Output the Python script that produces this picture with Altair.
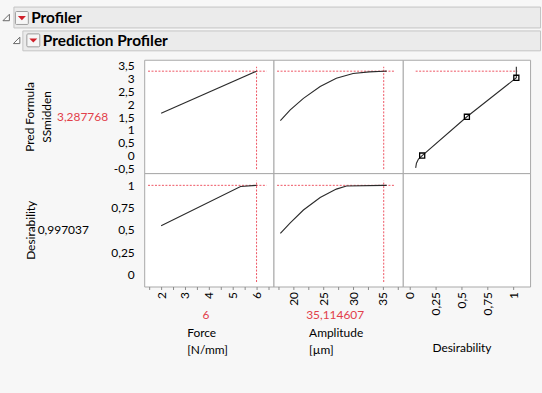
import altair as alt
import pandas as pd

# ---------------- data ----------------
force_line_x = [2.0, 6.0]
force_line_y = [1.65, 3.288]

amp_curve_x = [17.85, 19.5, 21.7, 24.5, 27.2, 30.0, 32.7, 35.11, 35.6]
amp_curve_y = [1.36, 1.78, 2.23, 2.69, 3.01, 3.20, 3.26, 3.288, 3.29]

desfn_d = [0.055, 0.0625, 0.082, 0.118, 0.551, 1.03, 1.03]
desfn_y = [-0.48, -0.30, -0.14, 0.0, 1.51, 3.03, 3.46]
handle_d = [0.118, 0.551, 1.03]
handle_y = [0.0, 1.51, 3.03]

force_des_x = [2.0, 5.33, 6.0]
force_des_y = [0.548, 0.985, 0.997]

amp_des_x = [17.85, 19.5, 21.7, 24.5, 27.2, 28.9, 35.11, 35.6]
amp_des_y = [0.462, 0.578, 0.722, 0.862, 0.955, 0.99, 0.997, 0.997]

current_force = 6
current_amp = 35.114607
current_pred = 3.287768
current_des = 0.997037

force_domain = [1.29, 6.71]
amp_domain = [16.7, 38.3]
des_domain = [-0.07, 1.163]
pred_domain = [-0.686, 3.733]
desy_domain = [-0.13, 1.133]

force_span = [1.45, 6.42]
amp_span = [17.3, 37.05]
des_span = [0.055, 1.04]
pred_span = [-0.53, 3.46]
desy_span = [-0.08, 1.048]

pred_ticks = [-0.5, 0, 0.5, 1, 1.5, 2, 2.5, 3, 3.5]
desy_ticks = [0, 0.25, 0.5, 0.75, 1]
force_ticks = [1.5, 2, 2.5, 3, 3.5, 4, 4.5, 5, 5.5, 6, 6.5]
amp_ticks = [17.5, 20, 22.5, 25, 27.5, 30, 32.5, 35, 37.5]
des_ticks = [0, 0.25, 0.5, 0.75, 1]

header_titles = ["Profiler", "Prediction Profiler"]


def fmt(v):
    return str(v).replace(".", ",")


# ---------------- styling ----------------
RED = "#ee5563"
VAL_RED = "#e2404a"
LINE = "#2a2a2a"
W1, W2, W3, H = 130, 130, 128, 114
COMMA = "replace(toString(datum.value), '.', ',')"


def sc(dom):
    return alt.Scale(domain=dom, nice=False, zero=False)


def yaxis(ticks, title, tx):
    return alt.Axis(values=ticks, labelExpr=COMMA, ticks=False, labelPadding=10,
                    title=title, titleX=tx, titleY=H / 2, titleAngle=270,
                    titleAlign="center", titleBaseline="middle", titleLineHeight=17)


def xaxis(ticks, expr, title, tx, ty):
    return alt.Axis(values=ticks, labelExpr=expr, tickSize=3, labelPadding=2,
                    labelAngle=270, labelAlign="right", labelBaseline="middle",
                    title=title, titleX=tx, titleY=ty, titleAlign="left",
                    titleBaseline="middle", titleAngle=0, titleLineHeight=17)


def hrule(span, yv, xs, ys, xax=None, yax=None):
    df = pd.DataFrame({"a": [span[0]], "b": [span[1]], "y": [yv]})
    return alt.Chart(df).mark_rule(color=RED, strokeDash=[2, 1.5], strokeWidth=1).encode(
        x=alt.X("a:Q", scale=xs, axis=xax), x2="b:Q",
        y=alt.Y("y:Q", scale=ys, axis=yax))


def vrule(span, xv, xs, ys, xax=None, yax=None):
    df = pd.DataFrame({"x": [xv], "a": [span[0]], "b": [span[1]]})
    return alt.Chart(df).mark_rule(color=RED, strokeDash=[2, 1.5], strokeWidth=1).encode(
        x=alt.X("x:Q", scale=xs, axis=xax),
        y=alt.Y("a:Q", scale=ys, axis=yax), y2="b:Q")


def curve(xs_vals, ys_vals, xs, ys, xax=None, yax=None):
    df = pd.DataFrame({"x": xs_vals, "y": ys_vals, "i": list(range(len(xs_vals)))})
    return alt.Chart(df).mark_line(color=LINE, strokeWidth=1.1).encode(
        x=alt.X("x:Q", scale=xs, axis=xax), y=alt.Y("y:Q", scale=ys, axis=yax),
        order="i:Q")


def label(txt, x, y, color, align="center", size=12, weight="normal"):
    df = pd.DataFrame({"t": [txt]})
    return alt.Chart(df).mark_text(color=color, align=align, baseline="middle",
                                   font="Lato", fontSize=size, fontWeight=weight).encode(
        x=alt.value(x), y=alt.value(y), text="t:N")


# ---------------- header decoration (drawn in panel 1 coordinates) ----------------
one = pd.DataFrame({"k": [0]})
spacer = alt.Chart(one).mark_rect(opacity=0).encode(
    x=alt.value(-143), x2=alt.value(399), y=alt.value(-58), y2=alt.value(335))
bar1 = alt.Chart(one).mark_rect(fill="#ebebeb", stroke="#c4c4c4", strokeWidth=1).encode(
    x=alt.value(-131), x2=alt.value(398.5), y=alt.value(-53), y2=alt.value(-32))
bar2 = alt.Chart(one).mark_rect(fill="#ebebeb", stroke="#c4c4c4", strokeWidth=1).encode(
    x=alt.value(-122), x2=alt.value(398.5), y=alt.value(-29), y2=alt.value(-9))
box1 = alt.Chart(one).mark_rect(fill="#f6f6f6", stroke="#9c9c9c", strokeWidth=1, cornerRadius=1).encode(
    x=alt.value(-129.5), x2=alt.value(-116.5), y=alt.value(-48.5), y2=alt.value(-35.5))
box2 = alt.Chart(one).mark_rect(fill="#f6f6f6", stroke="#9c9c9c", strokeWidth=1, cornerRadius=1).encode(
    x=alt.value(-118), x2=alt.value(-105), y=alt.value(-26), y2=alt.value(-13))
TRI = "M-1,-0.5L1,-0.5L0,0.55Z"
tri1 = alt.Chart(one).mark_point(shape=TRI, size=64, filled=True, color="#d0202a", opacity=1).encode(
    x=alt.value(-123), y=alt.value(-42))
tri2 = alt.Chart(one).mark_point(shape=TRI, size=64, filled=True, color="#d0202a", opacity=1).encode(
    x=alt.value(-111.5), y=alt.value(-19.5))
EXP = "M1,-1L1,1L-1,1Z"
exp1 = alt.Chart(one).mark_point(shape=EXP, size=42, filled=True, fill="#fdfdfd", stroke="#6a6a6a",
                                 strokeWidth=1, opacity=1).encode(x=alt.value(-138.8), y=alt.value(-42.5))
exp2 = alt.Chart(one).mark_point(shape=EXP, size=42, filled=True, fill="#fdfdfd", stroke="#6a6a6a",
                                 strokeWidth=1, opacity=1).encode(x=alt.value(-128.3), y=alt.value(-19.5))
hdr1 = label(header_titles[0], -113.7, -42, "#000", align="left", size=15.5, weight="bold")
hdr2 = label(header_titles[1], -102, -19, "#000", align="left", size=15.5, weight="bold")

# ---------------- panels ----------------
fx, ax_, dx = sc(force_domain), sc(amp_domain), sc(des_domain)
py, dy = sc(pred_domain), sc(desy_domain)

ya1 = yaxis(pred_ticks, ["Pred Formula", "SSmidden"], -115)
p11 = alt.layer(
    spacer, bar1, bar2, box1, box2, tri1, tri2, exp1, exp2, hdr1, hdr2,
    hrule(force_span, current_pred, fx, py, None, ya1),
    vrule(pred_span, current_force, fx, py, None, ya1),
    curve(force_line_x, force_line_y, fx, py, None, ya1),
    label(fmt(current_pred), -36.3, 57.4, VAL_RED, align="right"),
).properties(width=W1, height=H)

p12 = alt.layer(
    hrule(amp_span, current_pred, ax_, py),
    vrule(pred_span, current_amp, ax_, py),
    curve(amp_curve_x, amp_curve_y, ax_, py),
).properties(width=W2, height=H)

hdf = pd.DataFrame({"x": handle_d, "y": handle_y})
p13 = alt.layer(
    hrule(des_span, current_pred, dx, py),
    curve(desfn_d, desfn_y, dx, py),
    alt.Chart(hdf).mark_point(shape="square", size=26, filled=False, color="#000",
                              strokeWidth=1.3, opacity=1).encode(
        x=alt.X("x:Q", scale=dx, axis=None), y=alt.Y("y:Q", scale=py, axis=None)),
).properties(width=W3, height=H)

ya2 = yaxis(desy_ticks, "Desirability", -114.5)
xa1 = xaxis(force_ticks, "datum.value % 1 == 0 ? " + COMMA + " : ''",
            ["Force", "[N/mm]"], 42.7, 46)
p21 = alt.layer(
    hrule(force_span, current_des, fx, dy, xa1, ya2),
    vrule(desy_span, current_force, fx, dy, xa1, ya2),
    curve(force_des_x, force_des_y, fx, dy, xa1, ya2),
    label(fmt(current_des), -55.7, 57.7, "#000", align="right"),
    label(fmt(current_force), 62, 143, VAL_RED),
).properties(width=W1, height=H)

xa2 = xaxis(amp_ticks, "datum.value % 5 == 0 ? " + COMMA + " : ''",
            ["Amplitude", "[µm]"], 35.3, 46)
p22 = alt.layer(
    hrule(amp_span, current_des, ax_, dy, xa2, None),
    vrule(desy_span, current_amp, ax_, dy, xa2, None),
    curve(amp_des_x, amp_des_y, ax_, dy, xa2, None),
    label(fmt(current_amp), 62, 143, VAL_RED),
).properties(width=W2, height=H)

xa3 = xaxis(des_ticks, COMMA, "Desirability", 29.3, 61.5)
p23 = alt.Chart(pd.DataFrame({"x": [0.5], "y": [0.5]})).mark_point(opacity=0).encode(
    x=alt.X("x:Q", scale=dx, axis=xa3), y=alt.Y("y:Q", scale=dy, axis=None)
).properties(width=W3, height=H)

chart = alt.concat(p11, p12, p13, p21, p22, p23, columns=3, spacing=0, bounds="flush").properties(
    padding=0, background="#f7f7f7"
).configure_view(
    stroke="#a8a8a8", strokeWidth=1, fill="white"
).configure_axis(
    grid=False, domain=False, labelFont="Lato", labelFontSize=12, labelColor="#000",
    titleFont="Lato", titleFontSize=12, titleFontWeight="normal", titleColor="#000",
    tickColor="#8a8a8a"
)

chart.save("out.html", embed_options={"renderer": "svg", "actions": False})
